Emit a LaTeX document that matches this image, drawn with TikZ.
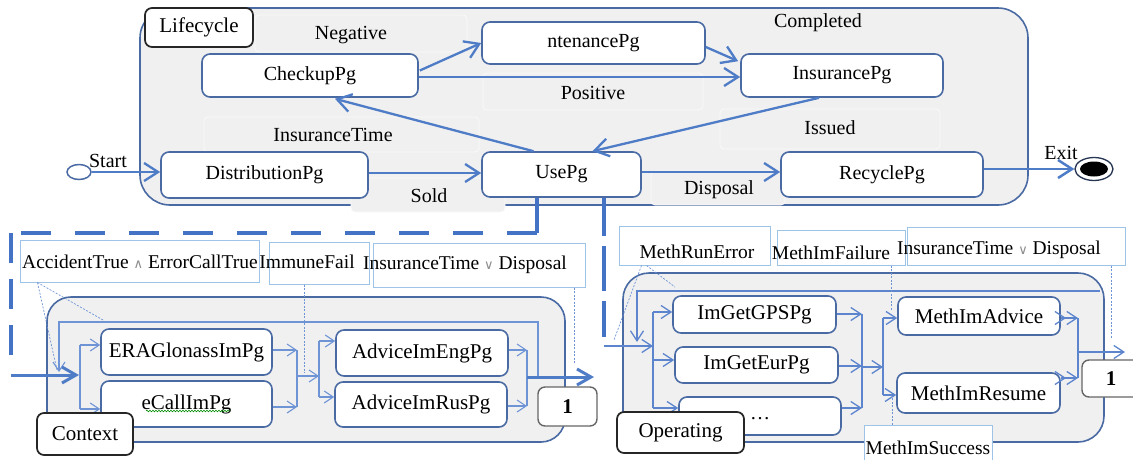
\documentclass[tikz,border=0pt]{standalone}
\usepackage{fontspec}
\setmainfont{Liberation Serif}
\newfontfamily\symfont{DejaVu Sans}
\usetikzlibrary{arrows.meta,shapes.misc,shapes.geometric,calc,decorations.pathmorphing}
\definecolor{contfill}{RGB}{240,240,240}
\definecolor{bord}{RGB}{74,106,164}
\definecolor{conn}{RGB}{79,124,199}
\definecolor{thinblue}{RGB}{110,148,214}
\definecolor{opblue}{RGB}{92,133,206}
\definecolor{notec}{RGB}{157,195,230}
\definecolor{dashc}{RGB}{68,114,196}
\newcommand\fszA{\fontsize{20}{23}\selectfont}
\newcommand\fszB{\fontsize{21}{24}\selectfont}
\newcommand\fszN{\fontsize{19.5}{23}\selectfont}
\newcommand\opsym[1]{{\symfont\fontsize{13}{13}\selectfont\color{black!45}#1}}
\tikzset{
  cont/.style={draw=bord, line width=1.6pt, fill=contfill, rounded corners=24pt, inner sep=0pt},
  faint/.style={draw=white!70!contfill, line width=0.8pt, fill=contfill, rounded corners=4pt},
  st/.style={draw=bord, line width=1.6pt, fill=white, rounded corners=8pt, inner sep=0pt, font=\fszA},
  stb/.style={st, font=\fszB},
  lbl/.style={draw=black!85, line width=1.7pt, fill=white, rounded corners=7pt, inner sep=0pt, font=\fszB},
  onebox/.style={draw=black!60, line width=1.4pt, fill=white, rounded corners=7pt, inner sep=0pt, font=\fszB\bfseries},
  note/.style={chamfered rectangle, chamfered rectangle corners=north east, chamfered rectangle xsep=5pt, chamfered rectangle ysep=5pt, draw=notec, line width=1pt, fill=white, inner sep=0pt},
  txt/.style={font=\fszA, inner sep=0pt},
  ntxt/.style={font=\fszN, inner sep=0pt},
  mainarr/.style={draw=conn, line width=2.3pt, -{Straight Barb[length=14pt,width=18pt]}},
  thinc/.style={draw=thinblue, line width=1.1pt},
  tarr/.style={thinc, -{Straight Barb[length=9pt,width=12pt]}},
  thinc2/.style={draw=opblue, line width=1.3pt},
  tarr2/.style={thinc2, -{Straight Barb[length=10pt,width=13pt]}},
  dbarr/.style={thinc2, -{Straight Barb[length=10pt,width=13pt] Straight Barb[length=10pt,width=13pt]}},
  tharr/.style={draw=conn, line width=3pt, -{Straight Barb[length=14pt,width=16pt]}},
  dshline/.style={draw=dashc, line width=4.5pt},
  dotl/.style={draw=thinblue, line width=0.7pt, dash pattern=on 2pt off 1.5pt},
}
\begin{document}
\begin{tikzpicture}[x=1pt,y=-1pt]
\useasboundingbox (0,0) rectangle (1133,459);

% ===== Lifecycle =====
\node[cont, rounded corners=30pt, minimum width=888pt, minimum height=197pt] (lifecycle) at (584,106.5) {};
\path[faint] (255,15) rectangle (467,52);
\path[faint] (483,73) rectangle (703,110);
\path[faint] (204,117) rectangle (479,152);
\path[faint] (351,178) rectangle (505,212);
\path[faint] (720,109) rectangle (940,149);
\path[faint] (651,171) rectangle (785,205);

\node[st, minimum width=216pt, minimum height=43pt] (CheckupPg) at (310,75.5) {CheckupPg};
\node[st, minimum width=223pt, minimum height=42pt] (ntenancePg) at (593.5,43) {ntenancePg};
\node[st, minimum width=202pt, minimum height=43pt] (InsurancePg) at (842,75.5) {InsurancePg};
\node[st, minimum width=207pt, minimum height=46pt] (DistributionPg) at (264.5,175) {DistributionPg};
\node[st, minimum width=159pt, minimum height=45pt] (UsePg) at (561.5,174.5) {UsePg};
\node[st, minimum width=202pt, minimum height=45pt] (RecyclePg) at (882,174.5) {RecyclePg};

\node[txt] (tNeg) at (351,35) {Negative};
\node[txt] (tPos) at (593,93) {Positive};
\node[txt] (tComp) at (818,23) {Completed};
\node[txt] (tIT) at (333,135) {InsuranceTime};
\node[txt] (tSold) at (429,196) {Sold};
\node[txt] (tIss) at (830,128) {Issued};
\node[txt] (tDisp) at (719,190) {Disposal};
\node[txt] (tStart) at (108,161) {Start};
\node[txt] (tExit) at (1061,153) {Exit};

\node[draw=bord, line width=1.5pt, fill=white, ellipse, minimum width=24pt, minimum height=15pt, inner sep=0pt] (start) at (79,172) {};
\node[draw=bord!50!black, line width=1.3pt, fill=white, ellipse, minimum width=38pt, minimum height=23pt, inner sep=0pt] (exit) at (1094,169) {};
\node[fill=black, ellipse, minimum width=28pt, minimum height=15pt, inner sep=0pt] (exitdot) at (exit) {};

\draw[mainarr] (start.east) -- (DistributionPg.west |- start.east);
\draw[mainarr] ($(CheckupPg.east)+(1,-5)$) -- (ntenancePg.west);
\draw[mainarr] (CheckupPg.east |- 0,77) -- (InsurancePg.west |- 0,77);
\draw[mainarr] ($(ntenancePg.east)+(0,4)$) -- ($(InsurancePg.north west)+(-2,8)$);
\draw[mainarr] ($(UsePg.north)+(-28,0)$) -- ($(CheckupPg.south)+(25,1)$);
\draw[mainarr] ($(InsurancePg.south)+(-23,0)$) -- ($(UsePg.north)+(31,0)$);
\draw[mainarr] (DistributionPg.east |- 0,173) -- (UsePg.west |- 0,173);
\draw[mainarr] (UsePg.east |- 0,172) -- (RecyclePg.west |- 0,172);
\draw[mainarr, line width=2.5pt] (RecyclePg.east |- 0,169) -- (exit.west);

\node[lbl, minimum width=108pt, minimum height=39pt] (lbLife) at (199,27.5) {Lifecycle};

% ===== Context =====
\node[cont, minimum width=518pt, minimum height=145pt] (ctx) at (306,369.5) {};

\node[note, minimum width=239pt, minimum height=42pt] (nAcc) at (139.5,261) {};
\node[note, minimum width=100pt, minimum height=42pt] (nImm) at (319,263) {};
\node[note, minimum width=212pt, minimum height=44pt] (nIns1) at (479,265) {};
\node[ntxt] (tAcc) at (140,262) {AccidentTrue \opsym{∧} ErrorCallTrue};
\node[ntxt] (tImm) at (307,262) {ImmuneFail};
\node[ntxt] (tIns1) at (465,265) {InsuranceTime \opsym{∨} Disposal};

\node[stb, minimum width=171pt, minimum height=46pt] (ERA) at (186.5,352) {ERAGlonassImPg};
\node[stb, minimum width=171pt, minimum height=46pt] (eCall) at (186.5,404) {eCallImPg};
\node[stb, minimum width=172pt, minimum height=46pt] (AEng) at (422,353) {AdviceImEngPg};
\node[stb, minimum width=172pt, minimum height=45pt] (ARus) at (421,404.5) {AdviceImRusPg};
\node[onebox, minimum width=59pt, minimum height=39pt] (one1) at (567.5,406.5) {1};
\draw[green!55!black, line width=0.6pt, decorate, decoration={snake, segment length=3pt, amplitude=0.8pt}] (146,411) -- (230,411);

\coordinate (cIn) at (79,375);
\coordinate (cF1t) at (80,345); \coordinate (cF1b) at (80,409);
\coordinate (cM1t) at (297,350); \coordinate (cM1b) at (297,407); \coordinate (cM1) at (297,376);
\coordinate (cF2) at (319,376); \coordinate (cF2t) at (319,341); \coordinate (cF2b) at (319,397);
\coordinate (cM2t) at (527,350); \coordinate (cM2b) at (527,406); \coordinate (cM2) at (527,377);
\coordinate (cOut) at (594,377);
\coordinate (cL0) at (538,377); \coordinate (cL1) at (538,322); \coordinate (cL2) at (59,322); \coordinate (cL3) at (59,372);

\draw[thinc] (cF1t) -- (cF1b);
\draw[tarr] (cF1t) -- (ERA.west |- cF1t);
\draw[tarr] (cF1b) -- (eCall.west |- cF1b);
\draw[tarr] (ERA.east |- cM1t) -- (cM1t);
\draw[tarr] (eCall.east |- cM1b) -- (cM1b);
\draw[thinc] (cM1t) -- (cM1b);
\draw[tarr] (cM1) -- (cF2);
\draw[thinc] (cF2t) -- (cF2b);
\draw[tarr] (cF2t) -- (AEng.west |- cF2t);
\draw[tarr] (cF2b) -- (ARus.west |- cF2b);
\draw[tarr] (AEng.east |- cM2t) -- (cM2t);
\draw[tarr] (ARus.east |- cM2b) -- (cM2b);
\draw[thinc] (cM2t) -- (cM2b);
\draw[tarr] (cL0) -- (cL1) -- (cL2) -- (cL3);
\draw[tharr] (cM2) -- (cOut);

\draw[dotl] ($(nAcc.south west)+(18,0)$) -- (57,370);
\draw[dotl] ($(nAcc.south west)+(18,0)$) -- (103,320);
\draw[dotl] (nImm.south -| 304,0) -- (304,373);
\draw[dotl] (nIns1.south -| 574,0) -- (574,363);

\node[lbl, minimum width=96pt, minimum height=42pt] (lbCtx) at (85,434) {Context};

% ===== Operating =====
\node[cont, rounded corners=26pt, minimum width=481pt, minimum height=169pt] (op) at (863.5,357.5) {};

\node[note, minimum width=151pt, minimum height=39pt] (nRun) at (694.5,245.5) {};
\node[note, minimum width=128pt, minimum height=35pt] (nFail) at (841,247.5) {};
\node[note, minimum width=218pt, minimum height=38pt] (nIns2) at (1016,246) {};
\node[ntxt] (tRun) at (697,252) {MethRunError};
\node[ntxt] (tFail) at (831,253) {MethImFailure};
\node[ntxt] (tIns2) at (999,250) {InsuranceTime \opsym{∨} Disposal};

\node[stb, minimum width=163pt, minimum height=37pt] (GPS) at (754.5,314.5) {ImGetGPSPg};
\node[stb, minimum width=163pt, minimum height=36pt] (Eur) at (756.5,365) {ImGetEurPg};
\node[stb, minimum width=162pt, minimum height=38pt] (dots) at (760,416) {};
\node[txt] (tdots) at (760,419) {…};
\node[stb, minimum width=162pt, minimum height=38pt] (MAdv) at (979,316) {MethImAdvice};
\node[stb, minimum width=163pt, minimum height=40pt] (MRes) at (978.5,393) {MethImResume};
\node[onebox, minimum width=58pt, minimum height=37pt] (one2) at (1111,378.5) {1};

\coordinate (oIn) at (653,346);
\coordinate (oF1t) at (653,312); \coordinate (oF1m) at (653,360); \coordinate (oF1b) at (653,408);
\coordinate (oM1t) at (862,314); \coordinate (oM1m) at (862,366); \coordinate (oM1b) at (862,408); \coordinate (oM1) at (862,367);
\coordinate (oF2) at (883,367); \coordinate (oF2t) at (883,318); \coordinate (oF2b) at (883,395);
\coordinate (oM2t) at (1078,318); \coordinate (oM2b) at (1078,378); \coordinate (oM2) at (1078,352);
\coordinate (oOut) at (1125,352);
\coordinate (oL1) at (1100,291); \coordinate (oL2) at (637,291); \coordinate (oL3) at (637,342);

\draw[thinc2] (oF1t) -- (oF1b);
\draw[tarr2] (oF1t) -- (GPS.west |- oF1t);
\draw[tarr2] (oF1m) -- (Eur.west |- oF1m);
\draw[tarr2] (oF1b) -- (dots.west |- oF1b);
\draw[tarr2] (GPS.east |- oM1t) -- (oM1t);
\draw[tarr2] (Eur.east |- oM1m) -- (oM1m);
\draw[tarr2] (dots.east |- oM1b) -- (oM1b);
\draw[thinc2] (oM1t) -- (oM1b);
\draw[tarr2] (oM1) -- (oF2);
\draw[thinc2] (oF2t) -- (oF2b);
\draw[tarr2] (oF2t) -- (MAdv.west |- oF2t);
\draw[tarr2] (oF2b) -- (MRes.west |- oF2b);
\draw[dbarr] (MAdv.east |- oM2t) -- (oM2t);
\draw[dbarr] (MRes.east |- oM2b) -- (oM2b);
\draw[thinc2] (oM2t) -- (oM2b);
\draw[tarr2] (oM2) -- (oOut);
\draw[tarr2] (oL1) -- (oL2) -- (oL3);

\node[note, minimum width=128pt, minimum height=45pt] (nSucc) at (928,447.5) {};
\node[ntxt] (tSucc) at (928,448) {MethImSuccess};

\draw[dotl] ($(nRun.south west)+(23,0)$) -- (614,340);
\draw[dotl] ($(nRun.south west)+(28,0)$) -- (675,287);
\draw[dotl] (nFail.south -| 891,0) -- (891,310);
\draw[dotl] (nIns2.south -| 1111,0) -- (1111,338);
\draw[dotl] (nSucc.north -| 892,0) -- (892,398);

\node[lbl, minimum width=127pt, minimum height=41pt] (lbOp) at (680.5,432.5) {Operating};

% ===== thick dashed links from UsePg =====
\coordinate (dA) at (537,233); \coordinate (dL) at (11,233); \coordinate (dL2) at (11,370); \coordinate (dL3) at (11,375);
\coordinate (dB) at (604,346);
\draw[dshline] ($(UsePg.south)+(-24.5,0)$) -- (dA);
\draw[dshline, dash pattern=on 30pt off 24pt] (dA) -- (dL);
\draw[dshline, dash pattern=on 30pt off 16pt] (dL) -- (dL2);
\draw[tharr] (dL3) -- (cIn);
\draw[dshline, dash pattern=on 38pt off 10pt on 45pt off 10pt on 37pt off 30pt] ($(UsePg.south)+(42.5,0)$) -- (604,337);
\draw[tarr2] (dB) -- (oIn);
\end{tikzpicture}
\end{document}
